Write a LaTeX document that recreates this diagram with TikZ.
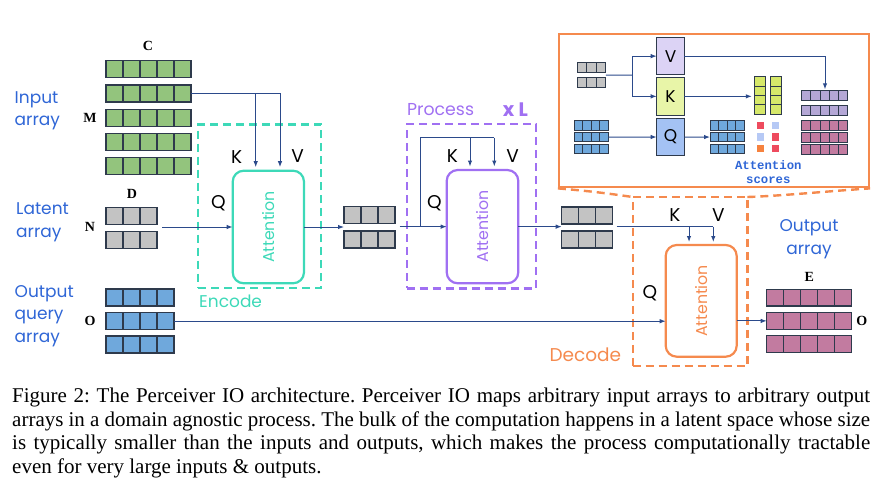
\documentclass[tikz,border=0pt]{standalone}
\usepackage{fontspec}
\setmainfont{Liberation Serif}
\newfontfamily\gs{Poppins}
\newfontfamily\monof{Liberation Mono}
\usetikzlibrary{arrows.meta,calc}
\definecolor{cellbd}{HTML}{2E3A4C}
\definecolor{cgreen}{HTML}{93C47D}
\definecolor{cgrey}{HTML}{C3C3C3}
\definecolor{cblue}{HTML}{6FA8DC}
\definecolor{cmag}{HTML}{C27BA0}
\definecolor{cpurp}{HTML}{B4A7D6}
\definecolor{clime}{HTML}{D6E86A}
\definecolor{vfill}{HTML}{DCD3F5}
\definecolor{kfill}{HTML}{E8F5A8}
\definecolor{qfill}{HTML}{A4C2F4}
\definecolor{sred}{HTML}{EE4B5E}
\definecolor{slblue}{HTML}{B6C9F5}
\definecolor{sorng}{HTML}{F6823E}
\definecolor{cteal}{HTML}{3DD9B8}
\definecolor{cviol}{HTML}{A070F2}
\definecolor{corange}{HTML}{F58A4E}
\definecolor{arrc}{HTML}{2B4A8B}
\definecolor{lblblue}{HTML}{2F66D6}
% name, left x, top y, n, cell w, cell h, fill, style
\newcommand\cellrow[8]{%
  \node[#8, fill=#7, minimum width={#4*#5}, minimum height=#6, anchor=north west] (#1) at (#2,#3) {};
  \foreach \k in {2,...,#4}{\draw[#8] ([xshift={(\k-1)*#5}]#1.north west) -- ([xshift={(\k-1)*#5}]#1.south west);}%
}
\newcommand\cellcol[8]{%
  \node[#8, fill=#7, minimum width=#5, minimum height={#4*#6}, anchor=north west] (#1) at (#2,#3) {};
  \foreach \k in {2,...,#4}{\draw[#8] ([yshift={-(\k-1)*#6}]#1.north west) -- ([yshift={-(\k-1)*#6}]#1.north east);}%
}
\begin{document}
\begin{tikzpicture}[x=1pt,y=-1pt,
  bigcell/.style={draw=cellbd, line width=1.4pt, inner sep=0pt, outer sep=0pt, rectangle},
  smallcell/.style={draw=cellbd, line width=0.9pt, inner sep=0pt, outer sep=0pt, rectangle},
  ln/.style={draw=arrc, line width=1pt},
  arr/.style={draw=arrc, line width=1pt, -{Latex[length=6pt,width=4.5pt]}},
  attbox/.style={rectangle, rounded corners=11pt, line width=2.2pt, inner sep=0pt, outer sep=0pt},
  dashbox/.style={rectangle, line width=2.4pt, dash pattern=on 8pt off 5pt, inner sep=0pt, outer sep=0pt},
  atttext/.style={rotate=90, font=\gs\fontsize{15.8}{15.8}\selectfont, inner sep=0pt},
  lbl/.style={font=\gs\fontsize{17}{22.5}\selectfont, text=lblblue, inner sep=0pt, align=left},
  kqv/.style={font=\gs\fontsize{18.5}{18.5}\selectfont, inner sep=0pt},
  dim/.style={font=\bfseries\fontsize{14}{14}\selectfont, inner sep=0pt},
  ibox/.style={rectangle, draw=cellbd, line width=1.1pt, inner sep=0pt, outer sep=0pt, minimum width=27.6, minimum height=37.5, font=\gs\fontsize{17}{17}\selectfont},
  score/.style={rectangle, inner sep=0pt, minimum size=7.3}
]
\useasboundingbox (0,0) rectangle (896,485);

% ---------- main arrays ----------
\cellrow{in1}{106}{60.7}{5}{17}{17}{cgreen}{bigcell}
\cellrow{in2}{106}{84.95}{5}{17}{17}{cgreen}{bigcell}
\cellrow{in3}{106}{109.2}{5}{17}{17}{cgreen}{bigcell}
\cellrow{in4}{106}{133.45}{5}{17}{17}{cgreen}{bigcell}
\cellrow{in5}{106}{157.7}{5}{17}{17}{cgreen}{bigcell}
\cellrow{la1}{106}{207.7}{3}{17}{16.7}{cgrey}{bigcell}
\cellrow{la2}{106}{231.7}{3}{17}{16.7}{cgrey}{bigcell}
\cellrow{oq1}{106}{289}{4}{17}{17}{cblue}{bigcell}
\cellrow{oq2}{106}{312.7}{4}{17}{17}{cblue}{bigcell}
\cellrow{oq3}{106}{336}{4}{17}{17}{cblue}{bigcell}
\cellrow{lb1}{344}{206.7}{3}{17}{16.8}{cgrey}{bigcell}
\cellrow{lb2}{344}{231}{3}{17}{16.8}{cgrey}{bigcell}
\cellrow{lc1}{561.7}{207}{3}{17}{16.8}{cgrey}{bigcell}
\cellrow{lc2}{561.7}{231}{3}{17}{16.8}{cgrey}{bigcell}
\cellrow{oa1}{766.7}{289.3}{5}{17}{16.8}{cmag}{bigcell}
\cellrow{oa2}{766.7}{312.5}{5}{17}{16.8}{cmag}{bigcell}
\cellrow{oa3}{766.7}{335.7}{5}{17}{16.8}{cmag}{bigcell}

% ---------- dimension letters ----------
\node[dim] (dC) at (148,46) {C};
\node[dim] (dM) at (90,118) {M};
\node[dim] (dD) at (132,194) {D};
\node[dim] (dN) at (90,227) {N};
\node[dim] (dO) at (90,320.5) {O};
\node[dim] (dE) at (809.3,277.3) {E};
\node[dim] (dO2) at (861.7,320.5) {O};

% ---------- side labels ----------
\node[lbl, anchor=west] (linput) at (14.5,111) {Input\\array};
\node[lbl, anchor=west] (llatent) at (16,222.5) {Latent\\array};
\node[lbl, anchor=west] (loq) at (14.5,316) {Output\\query\\array};
\node[lbl, align=center] (lout) at (809,239) {Output\\array};

% ---------- dashed stage boxes ----------
\node[dashbox, draw=cteal, minimum width=123, minimum height=163.7] (enc) at (259.5,206.15) {};
\node[dashbox, draw=cviol, minimum width=129.3, minimum height=164.3] (proc) at (471.35,206.15) {};
\node[dashbox, draw=corange, minimum width=114.6, minimum height=169] (dec) at (690,281.5) {};
\node[font=\gs\fontsize{17}{17}\selectfont, text=cteal, anchor=west, inner sep=0pt] (tenc) at (199,301.7) {Encode};
\node[font=\gs\fontsize{17.3}{17.3}\selectfont, text=cviol, anchor=west, inner sep=0pt] (tproc) at (407,109.3) {Process};
\node[font=\gs\bfseries\fontsize{19.5}{19.5}\selectfont, text=cviol, anchor=west, inner sep=0pt] (txl) at (502.7,109.3) {x L};
\node[font=\gs\fontsize{18.5}{18.5}\selectfont, text=corange, anchor=west, inner sep=0pt] (tdec) at (549.3,355) {Decode};

% ---------- attention boxes ----------
\node[attbox, draw=cteal, minimum width=71.3, minimum height=112.6] (att1) at (268.35,227) {};
\node[attbox, draw=cviol, minimum width=71.6, minimum height=113.3] (att2) at (482.5,226.65) {};
\node[attbox, draw=corange, minimum width=71, minimum height=111.7] (att3) at (701.2,300.85) {};
\node[atttext, text=cteal] (att1t) at (att1) {Attention};
\node[atttext, text=cviol] (att2t) at (att2) {Attention};
\node[atttext, text=corange] (att3t) at (att3) {Attention};

% ---------- K Q V labels ----------
\node[kqv] (k1) at (236.7,156.7) {K};
\node[kqv] (v1) at (297.7,156.5) {V};
\node[kqv] (q1) at (218.3,203.3) {Q};
\node[kqv] (k2) at (452.3,156.3) {K};
\node[kqv] (v2) at (512.7,156.3) {V};
\node[kqv] (q2) at (434.3,202.7) {Q};
\node[kqv] (k3) at (675,215) {K};
\node[kqv] (v3) at (718.3,215) {V};
\node[kqv] (q3) at (650,293.3) {Q};

% ---------- encode connectors ----------
\coordinate (ik) at (255.7,93.45);
\coordinate (iv) at (280,93.45);
\draw[ln] (in2.east) -- (iv);
\draw[arr, shorten >=3.5pt] (ik) -- (ik |- att1.north);
\draw[arr, shorten >=3.5pt] (iv) -- (iv |- att1.north);
\coordinate (ls) at (162.3,227);
\draw[arr] (ls) -- (ls -| att1.west);
\draw[arr] (att1.east) -- (att1.east -| lb1.west);

% ---------- process connectors ----------
\coordinate (ps) at (399.5,226.65);
\coordinate (pj) at (420.7,226.65);
\coordinate (pt) at (420.7,137.7);
\coordinate (pk) at (470,137.7);
\coordinate (pv) at (494.3,137.7);
\draw[arr] (ps) -- (ps -| att2.west);
\draw[ln] (pj) -- (pt) -- (pv);
\draw[arr, shorten >=3.5pt] (pk) -- (pk |- att2.north);
\draw[arr, shorten >=3.5pt] (pv) -- (pv |- att2.north);
\draw[arr] (att2.east) -- (att2.east -| lc1.west);

% ---------- decode connectors ----------
\coordinate (ds) at (616.7,226.7);
\coordinate (dk) at (689,226.7);
\coordinate (dv) at (713.3,226.7);
\draw[ln] (ds) -- (dv);
\draw[arr, shorten >=3pt] (dk) -- (dk |- att3.north);
\draw[arr, shorten >=3pt] (dv) -- (dv |- att3.north);
\draw[arr] (oq2.east) -- (oq2.east -| att3.west);
\draw[arr] (att3.east |- oa2.west) -- (oa2.west);

% ---------- inset ----------
\node[rectangle, draw=corange, line width=2.2pt, minimum width=310, minimum height=153.3, inner sep=0pt] (inset) at (714,110.65) {};
\draw[draw=corange, line width=2.4pt, dash pattern=on 8pt off 5pt] (inset.south west) .. controls (590,191) and (612,194) .. (dec.north west);
\draw[draw=corange, line width=2.4pt, dash pattern=on 8pt off 5pt] (dec.north east) .. controls (780,196) and (830,191) .. (inset.south east);

\cellrow{gs1}{577.3}{62.7}{3}{9.5}{10}{cgrey}{smallcell}
\cellrow{gs2}{577.3}{77.7}{3}{9.5}{10}{cgrey}{smallcell}
\cellrow{bi1}{574}{120.7}{4}{8.6}{9.5}{cblue}{smallcell}
\cellrow{bi2}{574}{132.3}{4}{8.6}{9.5}{cblue}{smallcell}
\cellrow{bi3}{574}{144.3}{4}{8.6}{9.5}{cblue}{smallcell}
\cellrow{bo1}{710}{120.7}{4}{8.5}{9.5}{cblue}{smallcell}
\cellrow{bo2}{710}{132.3}{4}{8.5}{9.5}{cblue}{smallcell}
\cellrow{bo3}{710}{144.3}{4}{8.5}{9.5}{cblue}{smallcell}
\cellcol{kc1}{754.3}{76.7}{4}{11.4}{9.33}{clime}{smallcell}
\cellcol{kc2}{770}{76.7}{4}{11.2}{9.33}{clime}{smallcell}
\cellrow{pr1}{801.7}{90}{5}{9.2}{10}{cpurp}{smallcell}
\cellrow{pr2}{801.7}{105}{5}{9.2}{10}{cpurp}{smallcell}
\cellrow{mr1}{801.7}{120}{5}{9.2}{10}{cmag}{smallcell}
\cellrow{mr2}{801.7}{132.3}{5}{9.2}{10}{cmag}{smallcell}
\cellrow{mr3}{801.7}{144.3}{5}{9.2}{10}{cmag}{smallcell}

\node[ibox, fill=vfill] (vbox) at (670.5,56.15) {V};
\node[ibox, fill=kfill] (kbox) at (670.5,96.35) {K};
\node[ibox, fill=qfill] (qbox) at (670.5,137) {Q};

\node[score, fill=sred] (s11) at (760.3,125.3) {};
\node[score, fill=slblue] (s12) at (775.8,125.3) {};
\node[score, fill=slblue] (s21) at (760.3,137) {};
\node[score, fill=sred] (s22) at (775.8,137) {};
\node[score, fill=sorng] (s31) at (760.3,148.7) {};
\node[score, fill=sred] (s32) at (775.8,148.7) {};

\node[font=\monof\bfseries\fontsize{12.3}{14.3}\selectfont, text=lblblue, align=center, inner sep=0pt] (ascores) at (768.3,172.2) {Attention\\scores};

\coordinate (gj) at (632.3,75.2);
\draw[ln] ($(gs1.south east)!0.5!(gs2.north east)$) -- (gj);
\draw[arr] (gj) |- (vbox.west);
\draw[arr] (gj) |- (kbox.west);
\draw[arr] (bi2.east) -- (qbox.west);
\draw[arr] (qbox.east) -- (bo2.west);
\draw[arr, shorten >=2.5pt] (kbox.east) -- (kbox.east -| kc1.west);
\coordinate (vturn) at (825,56.15);
\draw[arr, shorten >=0.7pt] (vbox.east) -- (vturn) -- (vturn |- pr1.north);

% ---------- caption ----------
\node[anchor=north west, inner sep=0pt, text width=858pt, align=justify,
      font=\fontsize{21}{23.6}\selectfont] (caption) at (12,387.7)
{\frenchspacing Figure 2: The Perceiver IO architecture. Perceiver IO maps arbitrary input arrays to arbitrary output\linebreak
arrays in a domain agnostic process. The bulk of the computation happens in a latent space whose size\linebreak
is typically smaller than the inputs and outputs, which makes the process computationally tractable\linebreak
even for very large inputs \& outputs.};
\end{tikzpicture}
\end{document}
